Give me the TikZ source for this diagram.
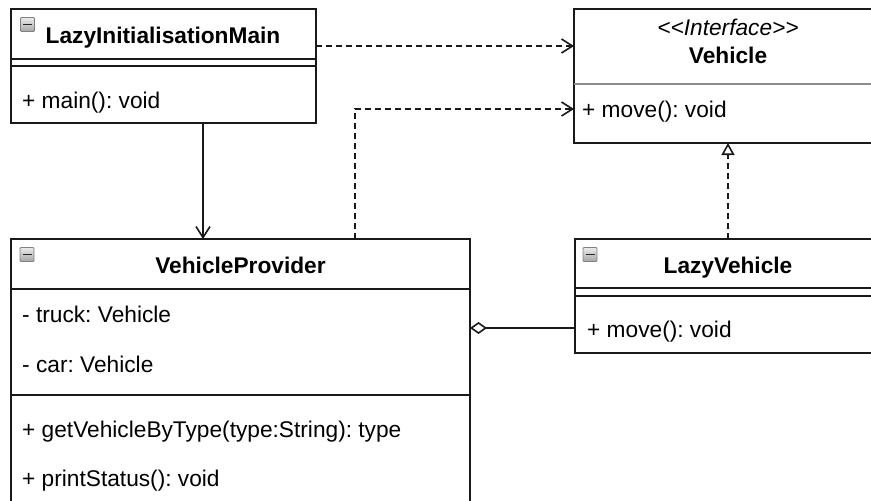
\documentclass[tikz,border=0pt]{standalone}
\usepackage{fontspec}
\setmainfont{Liberation Sans}
\usetikzlibrary{arrows.meta,calc}
\frenchspacing
\begin{document}
\begin{tikzpicture}[x=1pt,y=-1pt,
  umlbox/.style={draw=black!90, line width=1.8pt, anchor=north west, inner sep=0pt, outer sep=0pt, fill=white},
  sepline/.style={draw=black!90, line width=1.8pt},
  greysep/.style={draw=black!45, line width=1.4pt},
  txt/.style={anchor=base west, inner sep=0pt, font=\fontsize{22.7}{27}\selectfont},
  ttl/.style={anchor=base, inner sep=0pt, font=\fontsize{22.7}{27}\selectfont\bfseries},
  stereo/.style={anchor=base, inner sep=0pt, font=\fontsize{22.7}{27}\selectfont\itshape},
  dep/.style={draw=black!90, line width=1.6pt, dash pattern=on 6pt off 4pt, -{Straight Barb[length=11pt,width=14pt,line width=1.6pt]}},
  assoc/.style={draw=black!90, line width=1.6pt, -{Straight Barb[length=11pt,width=14pt,line width=1.6pt]}},
  real/.style={draw=black!90, line width=1.6pt, dash pattern=on 6pt off 4pt, -{Triangle[open, length=12pt, width=13pt, line width=1.6pt, fill=white]}},
  aggr/.style={draw=black!90, line width=1.6pt, -{Diamond[open, length=17pt, width=12pt, line width=1.6pt, fill=white]}},
  iconbox/.style={draw=black!50, line width=0.8pt, top color=black!8, bottom color=black!35, rounded corners=1pt},
  iconbar/.style={draw=black!85, line width=1.8pt}
]
\clip (0,0) rectangle (871,501);
\fill[white] (0,0) rectangle (871,501);

% boxes
\node[umlbox, minimum width=305pt, minimum height=114pt] (main) at (11,9) {};
\node[umlbox, minimum width=308pt, minimum height=134pt] (vehicle) at (574,9) {};
\node[umlbox, minimum width=459pt, minimum height=290pt] (provider) at (11,239) {};
\node[umlbox, minimum width=306pt, minimum height=114pt] (lazy) at (575,239) {};

% compartments
\draw[sepline] (main.west |- 0,59) -- (main.east |- 0,59);
\draw[sepline] (main.west |- 0,66) -- (main.east |- 0,66);
\draw[greysep] (vehicle.west |- 0,84) -- (vehicle.east |- 0,84);
\draw[sepline] (provider.west |- 0,289) -- (provider.east |- 0,289);
\draw[sepline] (provider.west |- 0,395) -- (provider.east |- 0,395);
\draw[sepline] (lazy.west |- 0,288) -- (lazy.east |- 0,288);
\draw[sepline] (lazy.west |- 0,296) -- (lazy.east |- 0,296);

% collapse icons
\foreach \b/\dx in {main/9.5, provider/9, lazy/8}{
  \draw[iconbox] ($(\b.north west)+(\dx,8.5)$) rectangle ++(14,14);
  \draw[iconbar] ($(\b.north west)+(\dx,8.5)+(2.5,7)$) -- ++(9,0);
}

% texts
\node[ttl] (mainT) at (163,43) {LazyInitialisationMain};
\node[txt] (mainM) at (22,108) {+ main(): void};
\node[stereo] (vehS) at (728,35) {{<}{<}Interface{>}{>}};
\node[ttl] (vehT) at (728,63) {Vehicle};
\node[txt] (vehM) at (582,117) {+ move(): void};
\node[ttl] (provT) at (240.5,273) {VehicleProvider};
\node[txt] (provA1) at (22,322) {- truck: Vehicle};
\node[txt] (provA2) at (22,372) {- car: Vehicle};
\node[txt] (provM1) at (22,437) {+ getVehicleByType(type:String): type};
\node[txt] (provM2) at (22,486) {+ printStatus(): void};
\node[ttl] (lazyT) at (728,273) {LazyVehicle};
\node[txt] (lazyM) at (587,337) {+ move(): void};

% connectors
\draw[dep] (main.east |- 0,46) -- (vehicle.west |- 0,46);
\draw[dep] (provider.north -| 355,0) |- (vehicle.west |- 0,109);
\draw[assoc] (main.south -| 203,0) -- (provider.north -| 203,0);
\draw[real] (lazy.north -| 728,0) -- (vehicle.south -| 728,0);
\draw[aggr] (lazy.west |- 0,328) -- (provider.east |- 0,328);
\end{tikzpicture}
\end{document}
